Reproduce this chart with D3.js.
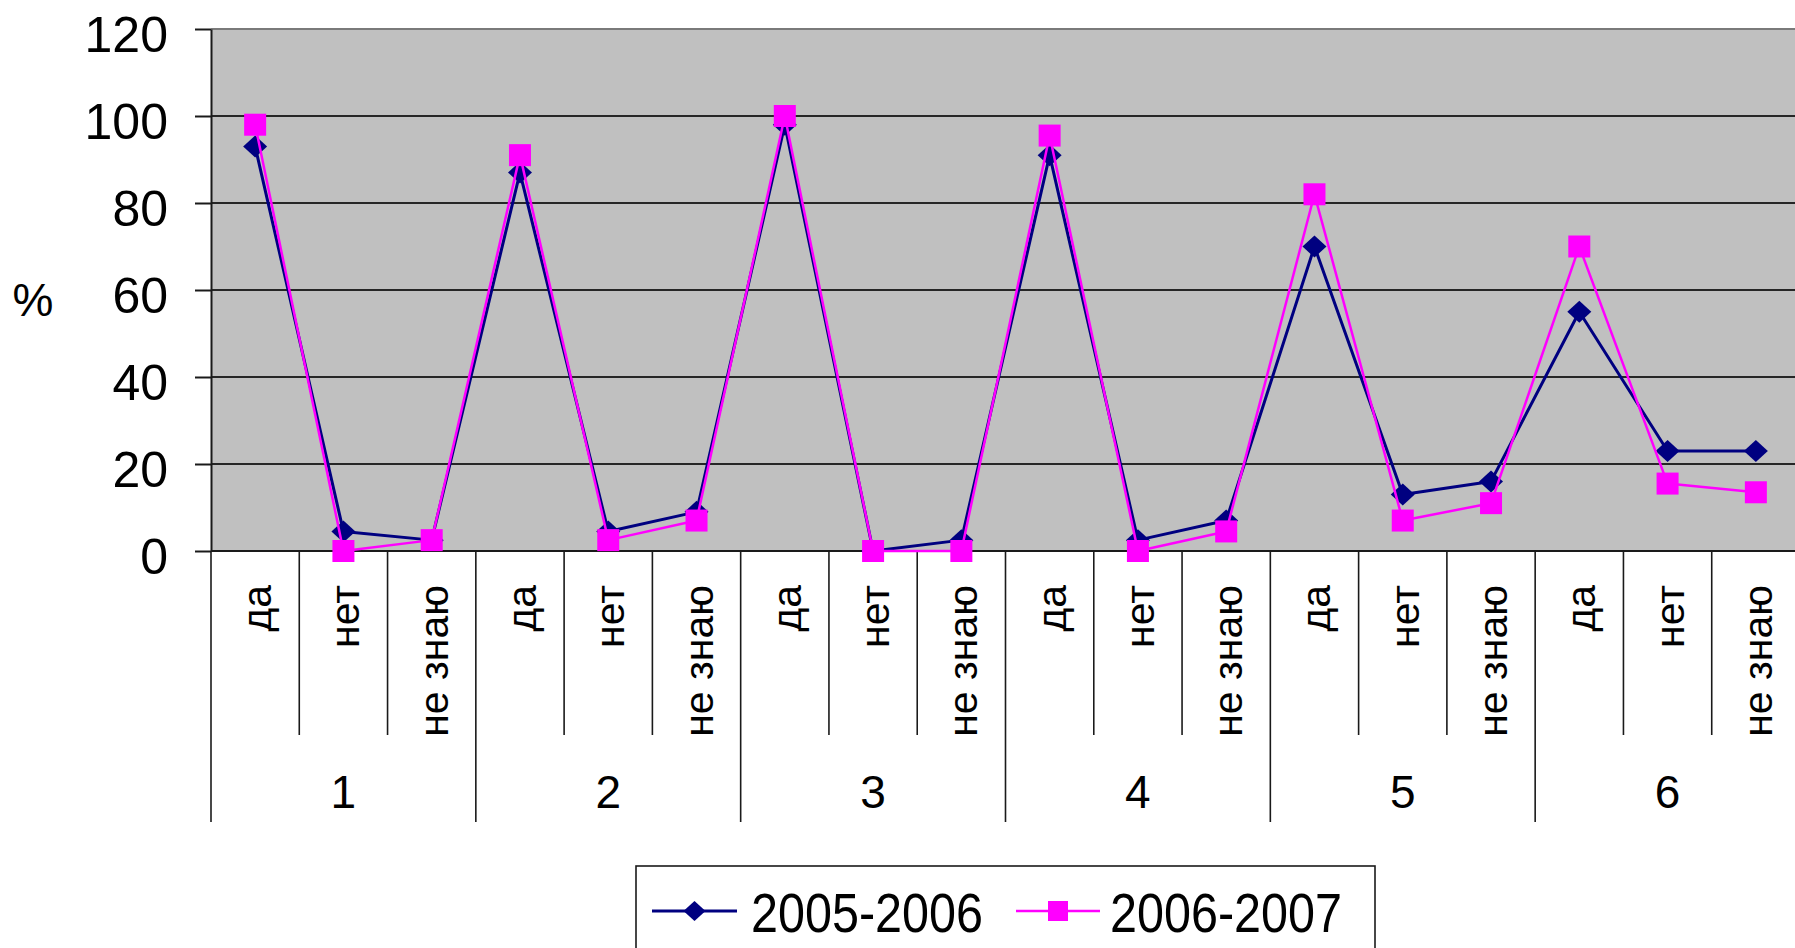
<!DOCTYPE html>
<html><head><meta charset="utf-8">
<script src="https://cdn.jsdelivr.net/npm/d3@7"></script>
<style>
html,body{margin:0;padding:0;background:#fff;}
svg{display:block;font-family:"Liberation Sans",Arial,sans-serif;}
</style></head>
<body><svg id="chart" width="1795" height="948"></svg>
<script>
const groups = ["1","2","3","4","5","6"];
const answers = ["да","нет","не знаю"];
const seriesNames = ["2005-2006","2006-2007"];
const values2005 = [93,4.5,2.5, 87,4.5,9, 98,0,2.5, 91,2.5,7, 70,13,16, 55,23,23];
const values2006 = [98,0,2.5, 91,2.5,7, 100,0,0, 95.5,0,4.5, 82,7,11, 70,15.5,13.5];
const yTicks = [0,20,40,60,80,100,120];

const svg = d3.select("#chart");
const L = 211, R = 1800, T = 29, B = 551;
const cats = [];
groups.forEach(g => answers.forEach(a => cats.push(g + "|" + a)));

const x = d3.scaleBand().domain(cats).range([L, R]).padding(0);
const y = d3.scaleLinear().domain([0,120]).range([B, T]);

// plot background
svg.append("rect").attr("x", L).attr("y", T).attr("width", R - L).attr("height", B - T).attr("fill", "#c0c0c0");

// gridlines
svg.append("g").selectAll("line").data(yTicks).join("line")
  .attr("x1", L).attr("x2", R)
  .attr("y1", d => y(d)).attr("y2", d => y(d))
  .attr("stroke", d => d === 120 ? "#7a7a7a" : "#262626").attr("stroke-width", 2);

// y axis
const yAxis = d3.axisLeft(y).tickValues(yTicks).tickSize(16).tickPadding(27).tickSizeOuter(0);
const ga = svg.append("g").attr("transform", `translate(${L},0)`).call(yAxis);
ga.select(".domain").attr("stroke", "#1a1a1a").attr("stroke-width", 2);
ga.selectAll(".tick line").attr("stroke", "#1a1a1a").attr("stroke-width", 2);
ga.selectAll(".tick text").attr("font-size", 50).attr("fill", "#000")
  .attr("font-family", '"Liberation Sans",Arial,sans-serif').attr("dy", "0.45em");

// % label
svg.append("text").attr("x", 33).attr("y", 299).attr("text-anchor", "middle").attr("dy", "0.36em")
  .attr("font-size", 46).text("%");

// category separators
const bw = x.bandwidth();
const sepIdx = d3.range(cats.length + 1);
svg.append("g").selectAll("line").data(sepIdx).join("line")
  .attr("x1", i => L + i * bw).attr("x2", i => L + i * bw)
  .attr("y1", B).attr("y2", i => i % 3 === 0 ? 822 : 735)
  .attr("stroke", "#1a1a1a").attr("stroke-width", 1.6);

// category labels (rotated)
svg.append("g").selectAll("text").data(cats).join("text")
  .attr("transform", d => `translate(${x(d) + bw / 2 + 16},585) rotate(-90)`)
  .attr("text-anchor", "end").attr("font-size", 41).attr("fill", "#000")
  .text(d => d.split("|")[1]);

// group labels
svg.append("g").selectAll("text").data(groups).join("text")
  .attr("x", g => x(g + "|нет") + bw / 2).attr("y", 808)
  .attr("text-anchor", "middle").attr("font-size", 46).attr("fill", "#000")
  .text(g => g);

// x axis baseline
svg.append("line").attr("x1", L).attr("x2", R).attr("y1", B).attr("y2", B)
  .attr("stroke", "#1a1a1a").attr("stroke-width", 2);

// series
const line = d3.line().x((d, i) => x(cats[i]) + bw / 2).y(d => y(d));
function drawSeries(vals, color, width, marker) {
  svg.append("path").datum(vals).attr("d", line).attr("fill", "none")
    .attr("stroke", color).attr("stroke-width", width).attr("stroke-linejoin", "round");
  const g = svg.append("g");
  if (marker === "diamond") {
    g.selectAll("path").data(vals).join("path")
      .attr("d", "M0,-11L12,0L0,11L-12,0Z")
      .attr("transform", (d, i) => `translate(${x(cats[i]) + bw / 2},${y(d)})`)
      .attr("fill", color);
  } else {
    g.selectAll("rect").data(vals).join("rect")
      .attr("x", (d, i) => x(cats[i]) + bw / 2 - 11).attr("y", d => y(d) - 11)
      .attr("width", 22).attr("height", 22).attr("fill", color);
  }
}
drawSeries(values2005, "#000080", 3, "diamond");
drawSeries(values2006, "#ff00ff", 2.5, "square");

// legend
const lg = svg.append("g");
lg.append("rect").attr("x", 636).attr("y", 866).attr("width", 739).attr("height", 100)
  .attr("fill", "#fff").attr("stroke", "#1a1a1a").attr("stroke-width", 1.6);
const legendItems = [
  {name: seriesNames[0], color: "#000080", x0: 652, x1: 737, tx: 751, marker: "diamond", w: 3},
  {name: seriesNames[1], color: "#ff00ff", x0: 1016, x1: 1100, tx: 1110, marker: "square", w: 2.5}
];
legendItems.forEach(it => {
  lg.append("line").attr("x1", it.x0).attr("x2", it.x1).attr("y1", 911).attr("y2", 911)
    .attr("stroke", it.color).attr("stroke-width", it.w);
  const cx = (it.x0 + it.x1) / 2;
  if (it.marker === "diamond") {
    lg.append("path").attr("d", "M0,-10L11,0L0,10L-11,0Z").attr("transform", `translate(${cx},911)`).attr("fill", it.color);
  } else {
    lg.append("rect").attr("x", cx - 10).attr("y", 901).attr("width", 20).attr("height", 20).attr("fill", it.color);
  }
  lg.append("text").attr("x", it.tx).attr("y", 932).attr("font-size", 55).attr("fill", "#000")
    .attr("textLength", 232).attr("lengthAdjust", "spacingAndGlyphs").text(it.name);
});
</script></body></html>
